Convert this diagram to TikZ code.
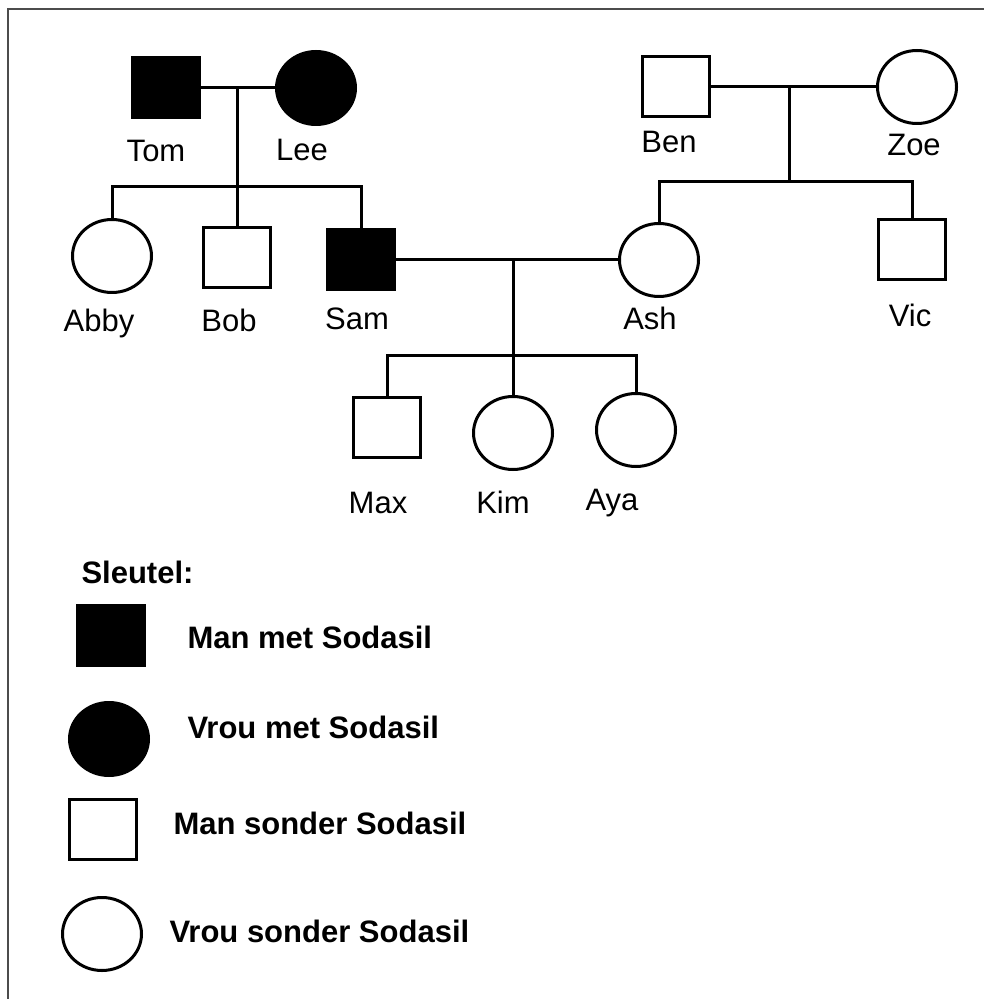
\documentclass[tikz,border=0pt]{standalone}
\usepackage{fontspec}
\setmainfont{Liberation Sans}
\usepackage{tikz}
\usetikzlibrary{shapes.geometric}
\tikzset{man/.style = {draw, rectangle, inner sep = 0pt,
                       minimum width = 33.5pt, minimum height = 30pt},
         vrou/.style = {draw, ellipse, inner sep = 0pt,
                        minimum width = 39.5pt, minimum height = 36.5pt},
         sick/.style = {fill = black},
         naam/.style = {anchor = base, inner sep = 0pt,
                        font = \fontsize{15.5}{18}\selectfont},
         sleutel/.style = {anchor = base west, inner sep = 0pt,
                           font = \fontsize{15.5}{18}\selectfont\bfseries}}

\begin{document}
\begin{tikzpicture}[x = 0.5pt, y = -0.5pt, line width = 1.5pt]
      \useasboundingbox (0, 0) rectangle (984, 999);
      \draw [line width = 1pt, black!70] (7.5, 999) -- (7.5, 9) -- (984, 9);

      \node [man, sick] (tom) at (166, 88) {};
      \node [vrou, sick] (lee) at (316, 88) {};
      \node [vrou] (abby) at (112, 256) {};
      \node [man] (bob) at (237, 258) {};
      \node [man, sick] (sam) at (361, 260) {};

      \node [man] (ben) at (676, 87) {};
      \node [vrou] (zoe) at (917, 87) {};
      \node [vrou] (ash) at (659, 260) {};
      \node [man] (vic) at (912, 250) {};

      \node [man] (max) at (387, 427) {};
      \node [vrou] (kim) at (513, 433) {};
      \node [vrou] (aya) at (636, 430) {};

      \node [naam] (tom-l) at (156, 162) {Tom};
      \node [naam] (lee-l) at (302, 161) {Lee};
      \node [naam] (abby-l) at (99, 332) {Abby};
      \node [naam] (bob-l) at (229, 332) {Bob};
      \node [naam] (sam-l) at (357, 330) {Sam};
      \node [naam] (ben-l) at (669, 153) {Ben};
      \node [naam] (zoe-l) at (914, 156) {Zoe};
      \node [naam] (ash-l) at (650, 330) {Ash};
      \node [naam] (vic-l) at (910, 327) {Vic};
      \node [naam] (max-l) at (378, 513) {Max};
      \node [naam] (kim-l) at (503, 513) {Kim};
      \node [naam] (aya-l) at (612, 510) {Aya};

      \coordinate (tl-top) at (237, 88);
      \coordinate (tl-kids) at (237, 187);
      \draw (tom) -- (lee);
      \draw (tl-top) -- (tl-kids);
      \draw (abby.north) -- (abby.north |- tl-kids) -- (sam.north |- tl-kids) -- (sam.north);
      \draw (tl-kids) -- (bob.north);

      \coordinate (bz-top) at (789, 87);
      \coordinate (bz-kids) at (789, 182);
      \draw (ben) -- (zoe);
      \draw (bz-top) -- (bz-kids);
      \draw (ash.north) -- (ash.north |- bz-kids) -- (vic.north |- bz-kids) -- (vic.north);

      \coordinate (sa-top) at (513, 260);
      \coordinate (sa-kids) at (513, 356);
      \draw (sam) -- (ash);
      \draw (sa-top) -- (sa-kids);
      \draw (max.north) -- (max.north |- sa-kids) -- (aya.north |- sa-kids) -- (aya.north);
      \draw (sa-kids) -- (kim.north);

      \node [sleutel] (key) at (80, 583) {Sleutel:};
      \node [man, sick] (key-mm) at (111, 635) {};
      \node [sleutel] (key-mm-l) at (186, 648) {Man met Sodasil};
      \node [vrou, sick] (key-vm) at (109, 739) {};
      \node [sleutel] (key-vm-l) at (186, 738) {Vrou met Sodasil};
      \node [man] (key-ms) at (103, 829) {};
      \node [sleutel] (key-ms-l) at (172, 834) {Man sonder Sodasil};
      \node [vrou] (key-vs) at (102, 934) {};
      \node [sleutel] (key-vs-l) at (168, 942) {Vrou sonder Sodasil};
    \end{tikzpicture}
\end{document}
